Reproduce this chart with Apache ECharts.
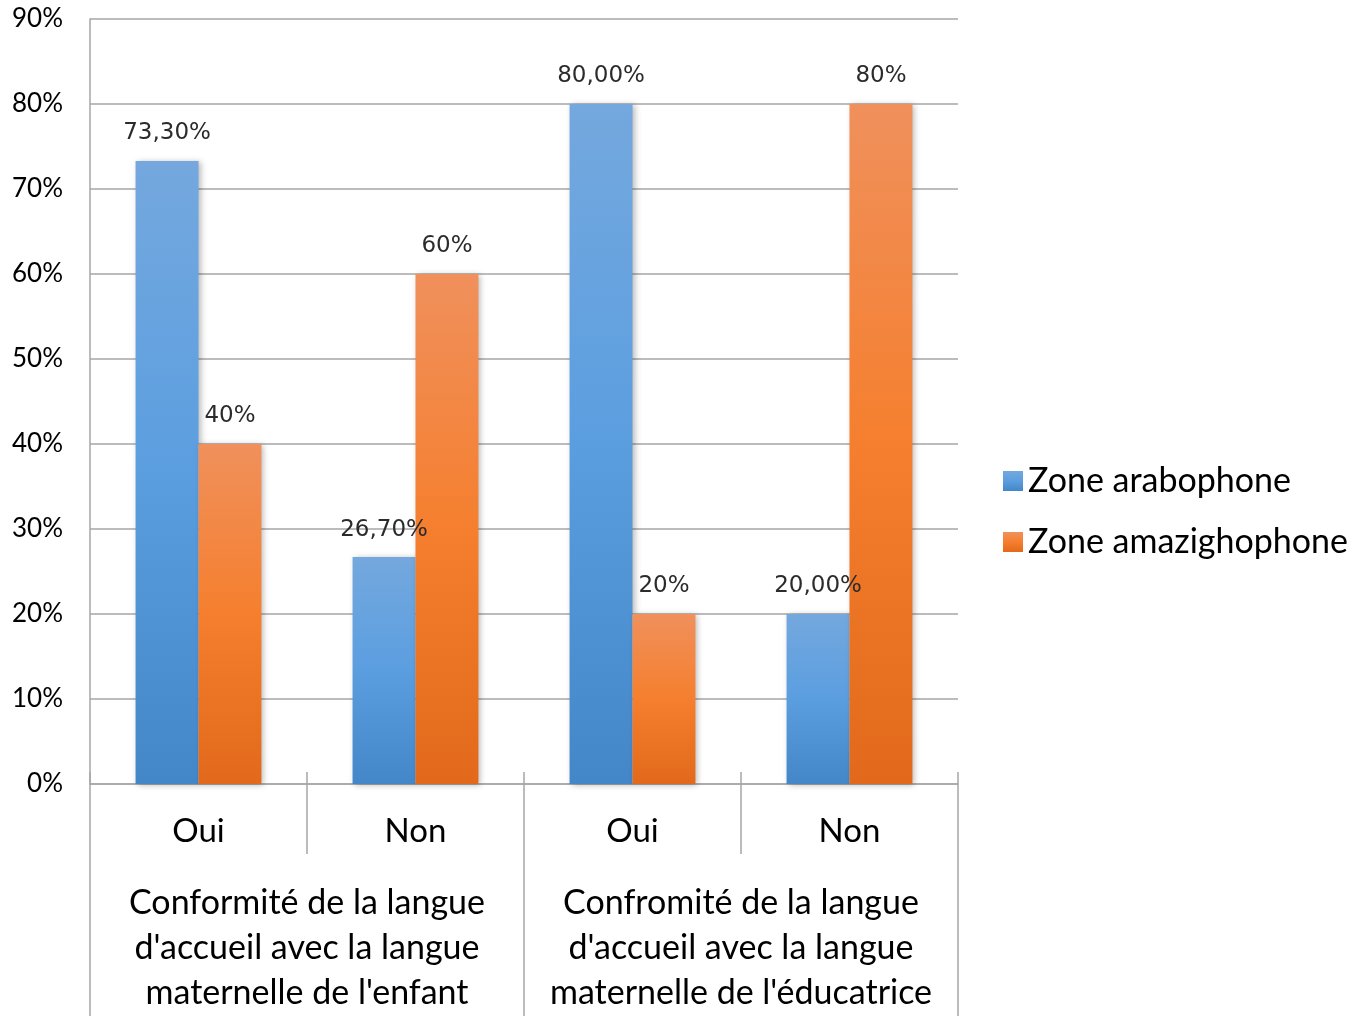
<!DOCTYPE html>
<html>
<head>
<meta charset="utf-8">
<script src="https://cdn.jsdelivr.net/npm/echarts@6/dist/echarts.min.js"></script>
<style>
  html, body { margin: 0; padding: 0; background: #fff; }
  #chart { width: 1355px; height: 1016px; }
</style>
</head>
<body>
<div id="chart"></div>
<script>
// Réponses par zone, regroupées par critère de conformité
const categories = ['Oui', 'Non', 'Oui', 'Non'];
const groups = [
  "Conformité de la langue\nd'accueil avec la langue\nmaternelle de l'enfant",
  "Confromité de la langue\nd'accueil avec la langue\nmaternelle de l'éducatrice"
];
const seriesNames = ['Zone arabophone', 'Zone amazighophone'];
const arabophone = [73.3, 26.7, 80, 20];
const amazighophone = [40, 60, 20, 80];
const yTicks = [0, 10, 20, 30, 40, 50, 60, 70, 80, 90];

const FONT = 'Lato, "Open Sans", sans-serif';
const GRID_COLOR = '#a6a6a6';

function grad(top, mid, bottom) {
  return new echarts.graphic.LinearGradient(0, 0, 0, 1, [
    { offset: 0, color: top },
    { offset: 0.5, color: mid },
    { offset: 1, color: bottom }
  ]);
}
const blue = grad('#74a8de', '#5b9ee0', '#4387c9');
const orange = grad('#f0905c', '#f57f2e', '#e2691b');

const chart = echarts.init(document.getElementById('chart'), null, { renderer: 'canvas' });

const barShadow = {
  shadowBlur: 6,
  shadowColor: 'rgba(0,0,0,0.28)',
  shadowOffsetX: 2,
  shadowOffsetY: 1
};

const labelStyle = {
  show: true,
  position: 'top',
  distance: 16,
  fontFamily: '"DejaVu Sans", Verdana, sans-serif',
  fontSize: 23,
  color: '#2b2b2b'
};

chart.setOption({
  animation: false,
  backgroundColor: '#ffffff',
  grid: { left: 90, width: 868, top: 19, height: 768, containLabel: false },
  legend: {
    orient: 'vertical',
    left: 998,
    top: 459,
    itemWidth: 20,
    itemHeight: 20,
    itemGap: 27,
    icon: 'rect',
    textStyle: { fontFamily: FONT, fontSize: 34, color: '#000' },
    data: seriesNames
  },
  xAxis: [
    {
      type: 'category',
      data: categories,
      position: 'bottom',
      axisLine: { show: true, lineStyle: { color: GRID_COLOR, width: 1.5 } },
      axisTick: { show: true, length: 70, lineStyle: { color: GRID_COLOR, width: 1.5 } },
      axisLabel: { fontFamily: FONT, fontSize: 33, color: '#000', margin: 31 },
      splitLine: { show: false }
    },
    {
      // petits traits au-dessus de l'axe
      type: 'category',
      data: categories,
      position: 'bottom',
      axisLine: { show: false },
      axisTick: { show: true, inside: true, length: 12, lineStyle: { color: GRID_COLOR, width: 1.5 } },
      axisLabel: { show: false },
      splitLine: { show: false }
    },
    {
      // niveau des critères
      type: 'category',
      data: groups,
      position: 'bottom',
      axisLine: { show: false },
      axisTick: { show: true, length: 240, lineStyle: { color: GRID_COLOR, width: 1.5 } },
      axisLabel: {
        fontFamily: FONT, fontSize: 34, color: '#000', margin: 97,
        lineHeight: 45, align: 'center', interval: 0
      },
      splitLine: { show: false }
    }
  ],
  yAxis: {
    type: 'value',
    min: 0,
    max: 90,
    interval: 10,
    axisLine: { show: true, lineStyle: { color: GRID_COLOR, width: 1.5 } },
    axisTick: { show: false },
    splitLine: { show: true, lineStyle: { color: GRID_COLOR, width: 1.5 } },
    axisLabel: {
      fontFamily: FONT, fontSize: 26, color: '#000', margin: 27,
      formatter: v => (yTicks.includes(v) ? v + '%' : '')
    }
  },
  series: [
    {
      name: seriesNames[0],
      type: 'bar',
      xAxisIndex: 0,
      data: arabophone,
      barGap: '0%',
      barCategoryGap: '42%',
      itemStyle: Object.assign({ color: blue }, barShadow),
      label: Object.assign({}, labelStyle, {
        formatter: p => p.value.toFixed(2).replace('.', ',') + '%'
      }),
      z: 3
    },
    {
      name: seriesNames[1],
      type: 'bar',
      xAxisIndex: 0,
      data: amazighophone,
      barGap: '0%',
      barCategoryGap: '42%',
      itemStyle: Object.assign({ color: orange }, barShadow),
      label: Object.assign({}, labelStyle, {
        formatter: p => p.value + '%'
      }),
      z: 3
    }
  ]
});
</script>
</body>
</html>
